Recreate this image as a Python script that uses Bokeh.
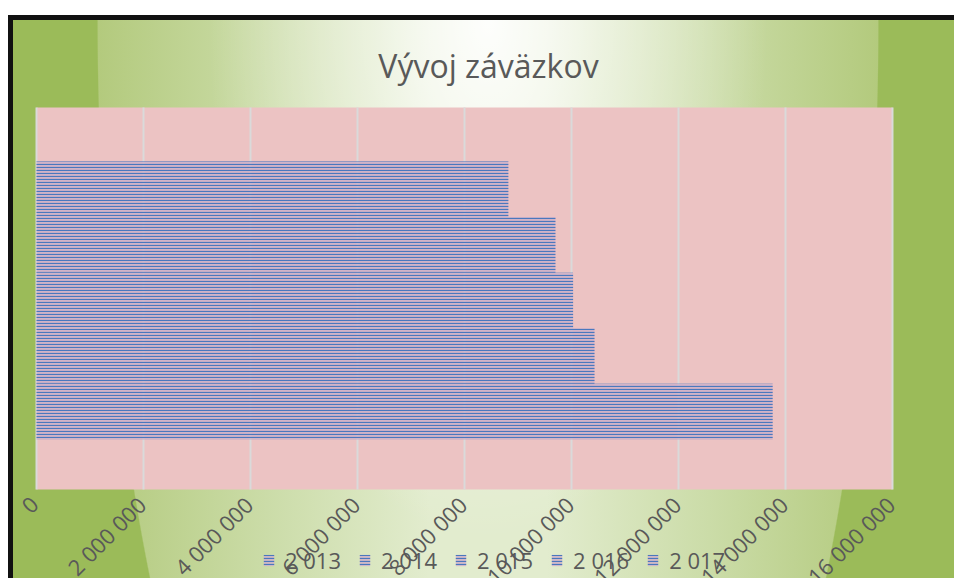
import math
from bokeh.plotting import figure
from bokeh.models import (Range1d, LabelSet, Label, ColumnDataSource, Legend,
                          LegendItem, BoxAnnotation)
from bokeh.core.properties import value
from bokeh.embed import file_html
from bokeh.resources import INLINE

# ---- data ----
series = ["2 013", "2 014", "2 015", "2 016", "2 017"]
amounts = [13760000, 10430000, 10030000, 9700000, 8820000]
positions = [0, 1, 2, 3, 4]
tick_values = [0, 2000000, 4000000, 6000000, 8000000, 10000000, 12000000, 14000000, 16000000]
tick_labels = ["0", "2 000 000", "4 000 000", "6 000 000", "8 000 000",
               "10 000 000", "12 000 000", "14 000 000", "16 000 000"]
title_text = "Vývoj záväzkov"

# plot-area extents (data units)
X_LO, X_HI = 0, 16000000
Y_LO, Y_HI = -1.4, 5.47

TXT = "#595959"
FONT = "Open Sans"

W, H = 954, 578
# the frame covers the whole canvas; ranges chosen so the plot area sits at
# x 36..892 px and y 107..489 px
px_per_x = (892 - 36) / (X_HI - X_LO)
px_per_y = (489 - 107) / (Y_HI - Y_LO)
x_range = Range1d(X_LO - 36 / px_per_x, X_HI + (W - 892) / px_per_x)
y_range = Range1d(Y_LO - (H - 489) / px_per_y, Y_HI + 107 / px_per_y)

p = figure(width=W, height=H, x_range=x_range, y_range=y_range,
           output_backend="svg", toolbar_location=None,
           x_axis_location=None, y_axis_location=None,
           min_border=0)
p.min_border_left = 0
p.min_border_right = 0
p.min_border_top = 0
p.min_border_bottom = 0
p.border_fill_color = None
p.background_fill_color = None
p.outline_line_color = None
p.xgrid.visible = False
p.ygrid.visible = False

bg = ("linear-gradient(#ffffff,#ffffff) 0 0 / 100% 15px no-repeat, "
      "linear-gradient(#ffffff,#ffffff) 0 0 / 8px 100% no-repeat, "
      "linear-gradient(#111111,#111111) 8px 15px / 100% 5px no-repeat, "
      "linear-gradient(#111111,#111111) 8px 15px / 5px 100% no-repeat, "
      "radial-gradient(391px 1116px at 488px 20px, rgba(155,187,89,0) 99.7%, #9bbb59 100%), "
      "radial-gradient(280px 520px at 488px 20px, rgba(255,255,255,0.95) 0%, rgba(255,255,255,0.5) 40%, rgba(255,255,255,0) 100%), "
      "linear-gradient(to right, #b3ca7d 10.2%, #cbdca8 28%, #e2ecce 45%, #e2ecce 57.3%, #cbdca8 74.3%, #b3ca7d 92.1%)")
p.styles = {"background": bg}

# plot area
p.add_layout(BoxAnnotation(left=X_LO, right=X_HI, bottom=Y_LO, top=Y_HI,
                           fill_color="#ECC3C3", fill_alpha=1.0,
                           line_color=None, level="underlay"))

# vertical gridlines
p.segment(x0=tick_values, x1=tick_values, y0=Y_LO, y1=Y_HI,
          line_color="#DADADA", line_width=2)

src = ColumnDataSource(dict(y=positions, right=amounts, label=series))
r = p.hbar(y="y", left=0, right="right", height=1.0, source=src,
           fill_color="#CDB0C8", fill_alpha=0.85,
           hatch_pattern="horizontal_line", hatch_color="#4A78BE",
           hatch_scale=3, hatch_weight=1.2, line_color=None)

tick_src = ColumnDataSource(dict(x=tick_values, text=tick_labels))
labels = LabelSet(x="x", y=Y_LO, text="text", source=tick_src,
                  angle=math.pi / 4, text_align="right", text_baseline="middle",
                  text_font=value(FONT), text_font_size="22px", text_color=TXT,
                  x_offset=-2, y_offset=-11)
p.add_layout(labels)

items = [LegendItem(label=s, renderers=[r], index=i) for i, s in enumerate(series)]
legend = Legend(items=items, orientation="horizontal", location=(262, 3),
                background_fill_alpha=0, border_line_color=None,
                padding=0, margin=0, spacing=17, label_standoff=10,
                glyph_width=13, glyph_height=14,
                label_text_font=FONT, label_text_font_size="22px",
                label_text_color=TXT)
p.add_layout(legend)

p.add_layout(Label(x=488, y=H - 65, x_units="screen", y_units="screen",
                   text=title_text, text_align="center", text_baseline="middle",
                   text_font=FONT, text_font_size="32px", text_color=TXT))

open("out.html", "w").write(file_html(p, INLINE))
